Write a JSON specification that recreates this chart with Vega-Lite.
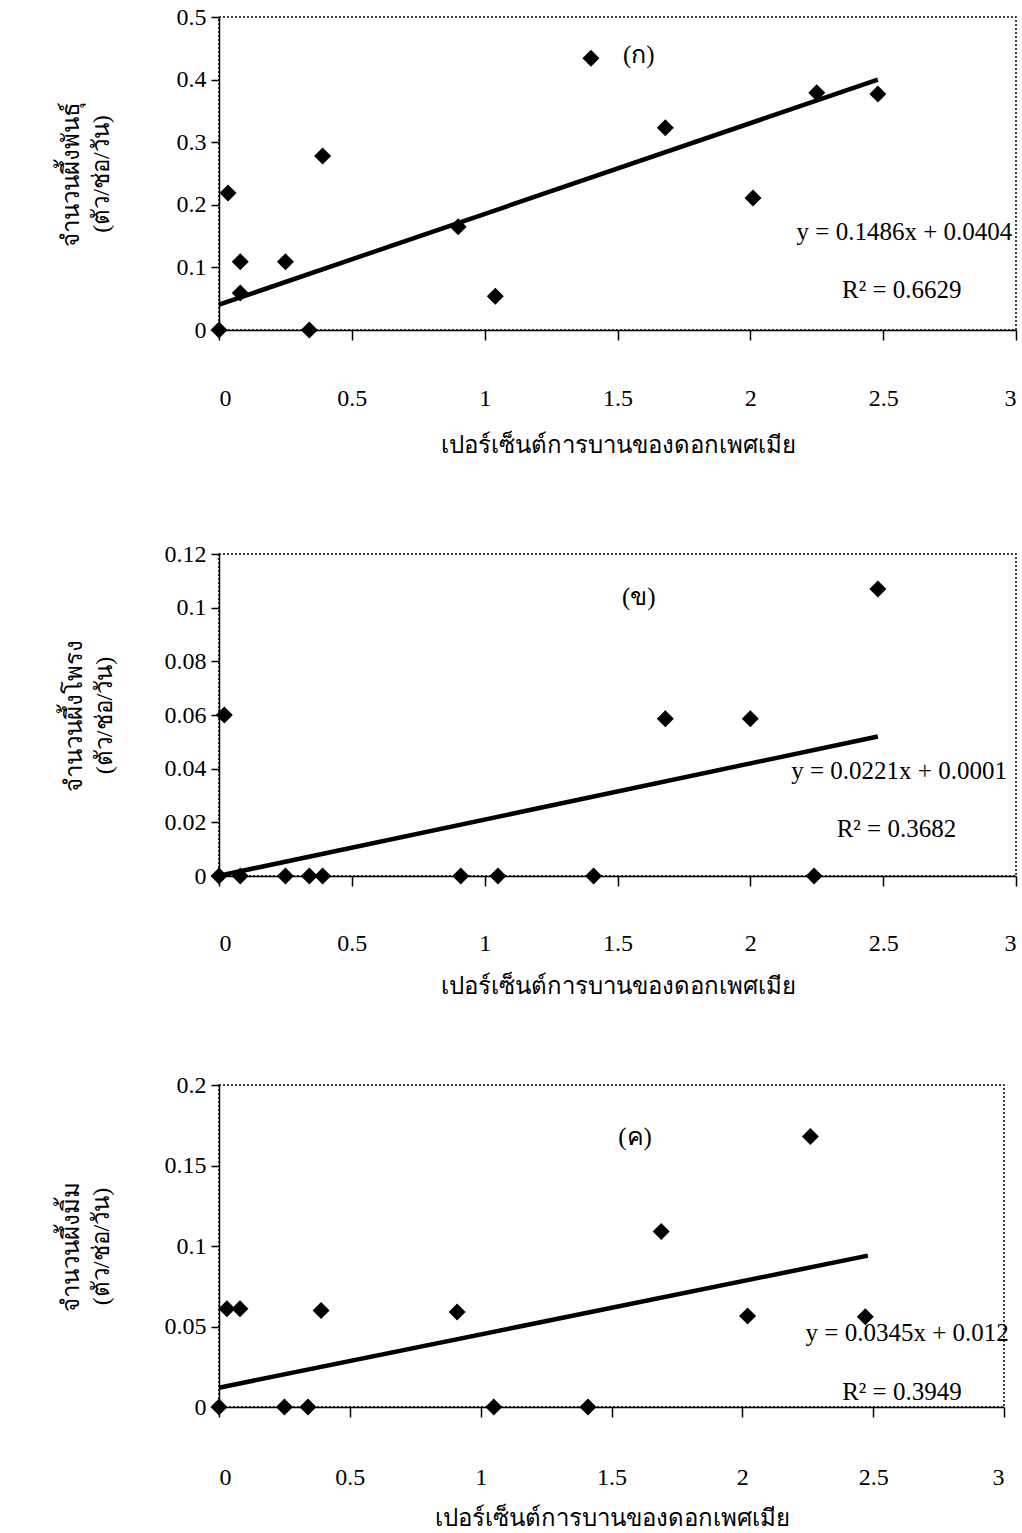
{
  "$schema": "https://vega.github.io/schema/vega-lite/v6.json",
  "background": "white",
  "padding": {"left": 58, "top": 4, "right": 0, "bottom": 0},
  "spacing": 73,
  "config": {
    "view": {"stroke": "black", "strokeDash": [2, 2], "strokeWidth": 1.5},
    "axis": {
      "grid": false,
      "domainColor": "black",
      "domainWidth": 1.5,
      "tickColor": "black",
      "tickWidth": 1.5,
      "labelColor": "black",
      "titleColor": "black",
      "labelFont": "Liberation Serif",
      "labelFontSize": 24,
      "titleFont": "Liberation Serif",
      "titleFontSize": 24,
      "titleFontWeight": "normal"
    },
    "text": {"font": "Liberation Serif", "fontSize": 25, "color": "black"}
  },
  "datasets": {
    "pts1": [
      {"x": 0, "y": 0}, {"x": 0.034, "y": 0.219}, {"x": 0.08, "y": 0.109}, {"x": 0.08, "y": 0.059},
      {"x": 0.25, "y": 0.109}, {"x": 0.34, "y": 0}, {"x": 0.39, "y": 0.278}, {"x": 0.9, "y": 0.165},
      {"x": 1.04, "y": 0.054}, {"x": 1.4, "y": 0.434}, {"x": 1.68, "y": 0.323}, {"x": 2.01, "y": 0.211},
      {"x": 2.25, "y": 0.379}, {"x": 2.48, "y": 0.377}
    ],
    "pts2": [
      {"x": 0, "y": 0}, {"x": 0.02, "y": 0.06}, {"x": 0.08, "y": 0}, {"x": 0.25, "y": 0},
      {"x": 0.34, "y": 0}, {"x": 0.39, "y": 0}, {"x": 0.91, "y": 0}, {"x": 1.05, "y": 0},
      {"x": 1.41, "y": 0}, {"x": 1.68, "y": 0.0586}, {"x": 2.0, "y": 0.0586}, {"x": 2.24, "y": 0},
      {"x": 2.48, "y": 0.107}
    ],
    "pts3": [
      {"x": 0, "y": 0}, {"x": 0.03, "y": 0.061}, {"x": 0.08, "y": 0.061}, {"x": 0.25, "y": 0},
      {"x": 0.34, "y": 0}, {"x": 0.39, "y": 0.06}, {"x": 0.91, "y": 0.059}, {"x": 1.05, "y": 0},
      {"x": 1.41, "y": 0}, {"x": 1.69, "y": 0.109}, {"x": 2.02, "y": 0.0565}, {"x": 2.26, "y": 0.168},
      {"x": 2.47, "y": 0.056}
    ],
    "line1": [{"x": 0, "y": 0.0404}, {"x": 2.48, "y": 0.4}],
    "line2": [{"x": 0, "y": 0.0001}, {"x": 2.48, "y": 0.052}],
    "line3": [{"x": 0, "y": 0.012}, {"x": 2.48, "y": 0.094}],
    "notes1": [
      {"x": 2.58, "y": 0.157, "t": "y = 0.1486x + 0.0404"},
      {"x": 2.57, "y": 0.064, "t": "R² = 0.6629"},
      {"x": 1.58, "y": 0.44, "t": "(ก)"}
    ],
    "notes2": [
      {"x": 2.56, "y": 0.039, "t": "y = 0.0221x + 0.0001"},
      {"x": 2.55, "y": 0.0175, "t": "R² = 0.3682"},
      {"x": 1.58, "y": 0.104, "t": "(ข)"}
    ],
    "notes3": [
      {"x": 2.63, "y": 0.046, "t": "y = 0.0345x + 0.012"},
      {"x": 2.61, "y": 0.0093, "t": "R² = 0.3949"},
      {"x": 1.59, "y": 0.168, "t": "(ค)"}
    ]
  },
  "vconcat": [
    {
      "spacing": 83,
      "vconcat": [
        {
          "width": 797,
          "height": 313,
          "encoding": {
            "x": {"field": "x", "type": "quantitative",
              "scale": {"domain": [0, 3], "nice": false},
              "axis": {"values": [0, 0.5, 1, 1.5, 2, 2.5, 3], "format": ".1~f", "tickSize": 10, "labelPadding": 46, "titlePadding": 23, "title": "เปอร์เซ็นต์การบานของดอกเพศเมีย"}},
            "y": {"field": "y", "type": "quantitative",
              "scale": {"domain": [0, 0.5], "nice": false},
              "axis": {"values": [0, 0.1, 0.2, 0.3, 0.4, 0.5], "format": ".2~f", "tickSize": 8, "labelPadding": 5, "titlePadding": 63, "title": ["จำนวนผึ้งพันธุ์", "(ตัว/ช่อ/วัน)"], "titleLineHeight": 30}}
          },
          "layer": [
            {"data": {"name": "line1"}, "mark": {"type": "line", "color": "black", "strokeWidth": 4.5}},
            {"data": {"name": "pts1"}, "mark": {"type": "point", "shape": "diamond", "filled": true, "color": "black", "opacity": 1, "size": 289}},
            {"data": {"name": "notes1"}, "mark": {"type": "text"}, "encoding": {"text": {"field": "t"}}}
          ]
        },
        {
          "width": 797,
          "height": 322,
          "encoding": {
            "x": {"field": "x", "type": "quantitative",
              "scale": {"domain": [0, 3], "nice": false},
              "axis": {"values": [0, 0.5, 1, 1.5, 2, 2.5, 3], "format": ".1~f", "tickSize": 10, "labelPadding": 45, "titlePadding": 19, "title": "เปอร์เซ็นต์การบานของดอกเพศเมีย"}},
            "y": {"field": "y", "type": "quantitative",
              "scale": {"domain": [0, 0.12], "nice": false},
              "axis": {"values": [0, 0.02, 0.04, 0.06, 0.08, 0.1, 0.12], "format": ".2~f", "tickSize": 8, "labelPadding": 5, "titlePadding": 48, "title": ["จำนวนผึ้งโพรง", "(ตัว/ช่อ/วัน)"], "titleLineHeight": 30}}
          },
          "layer": [
            {"data": {"name": "line2"}, "mark": {"type": "line", "color": "black", "strokeWidth": 4.5}},
            {"data": {"name": "pts2"}, "mark": {"type": "point", "shape": "diamond", "filled": true, "color": "black", "opacity": 1, "size": 289}},
            {"data": {"name": "notes2"}, "mark": {"type": "text"}, "encoding": {"text": {"field": "t"}}}
          ]
        }
      ]
    },
    {
      "vconcat": [
        {
          "width": 785,
          "height": 322,
          "encoding": {
            "x": {"field": "x", "type": "quantitative",
              "scale": {"domain": [0, 3], "nice": false},
              "axis": {"values": [0, 0.5, 1, 1.5, 2, 2.5, 3], "format": ".1~f", "tickSize": 10, "labelPadding": 48, "titlePadding": 17, "title": "เปอร์เซ็นต์การบานของดอกเพศเมีย"}},
            "y": {"field": "y", "type": "quantitative",
              "scale": {"domain": [0, 0.2], "nice": false},
              "axis": {"values": [0, 0.05, 0.1, 0.15, 0.2], "format": ".2~f", "tickSize": 8, "labelPadding": 5, "titlePadding": 51, "title": ["จำนวนผึ้งมิ้ม", "(ตัว/ช่อ/วัน)"], "titleLineHeight": 30}}
          },
          "layer": [
            {"data": {"name": "line3"}, "mark": {"type": "line", "color": "black", "strokeWidth": 4.5}},
            {"data": {"name": "pts3"}, "mark": {"type": "point", "shape": "diamond", "filled": true, "color": "black", "opacity": 1, "size": 289}},
            {"data": {"name": "notes3"}, "mark": {"type": "text"}, "encoding": {"text": {"field": "t"}}}
          ]
        }
      ]
    }
  ]
}
